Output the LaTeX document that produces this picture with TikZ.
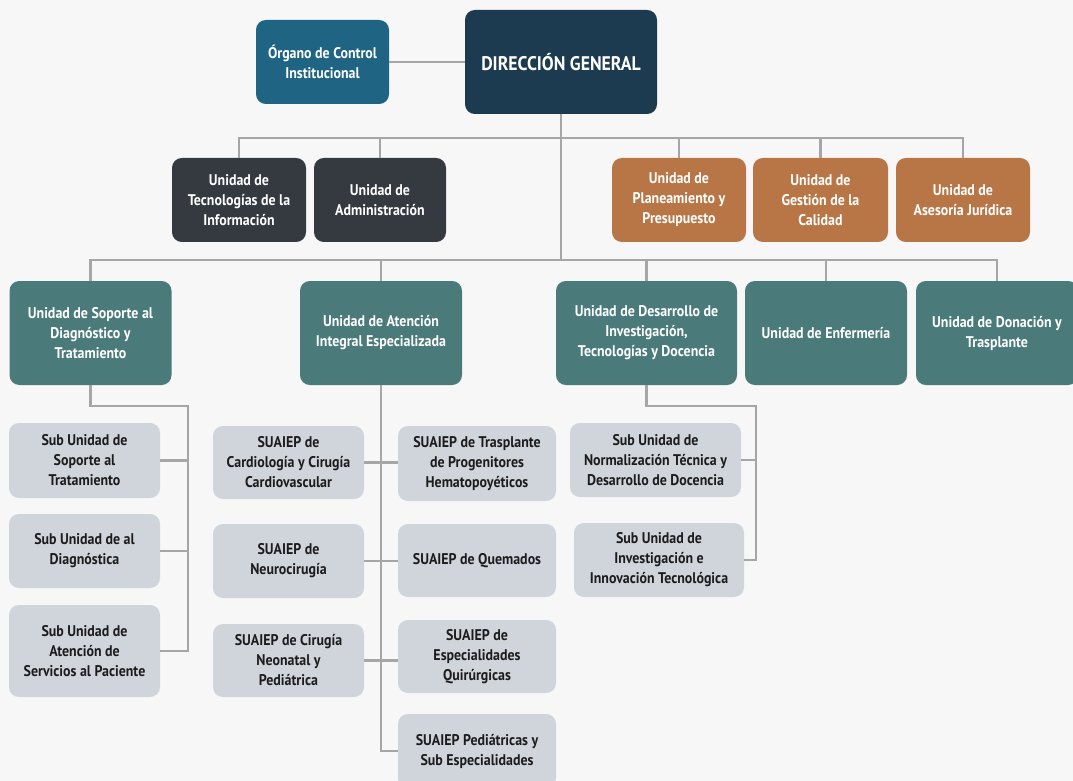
\documentclass[tikz,border=0pt]{standalone}
\usepackage{fontspec}
\setmainfont{PT Sans}[FakeStretch=0.9]
\usepackage{tikz}
\usetikzlibrary{calc}
\definecolor{paper}{RGB}{247, 247, 247}
\definecolor{navy}{RGB}{28, 58, 80}
\definecolor{petrol}{RGB}{31, 101, 131}
\definecolor{slate}{RGB}{52, 58, 64}
\definecolor{copper}{RGB}{184, 118, 70}
\definecolor{teal}{RGB}{74, 122, 122}
\definecolor{mist}{RGB}{208, 213, 219}
\definecolor{ink}{RGB}{28, 28, 28}
\definecolor{wiregray}{RGB}{166, 166, 166}

\begin{document}
\begin{tikzpicture}[x=0.025cm, y=-0.025cm,
        every node/.style={font=\bfseries\fontsize{11}{14.2}\selectfont, align=center, inner sep=0pt, rounded corners=7pt},
        sz/.style 2 args={minimum width=#1*0.025cm, minimum height=#2*0.025cm},
        head/.style={fill=navy, text=white},
        organ/.style={fill=petrol, text=white},
        staff/.style={fill=slate, text=white},
        advise/.style={fill=copper, text=white},
        unit/.style={fill=teal, text=white},
        subunit/.style={fill=mist, text=ink},
        wire/.style={draw=wiregray, line width=1.5pt}]
            \useasboundingbox (0,0) rectangle (1073,781);
            \fill[paper] (0,0) rectangle (1073,781);

            % direccion y organo de control
            \node[head, sz={192}{104}, font=\bfseries\fontsize{14}{17}\selectfont] (dir) at (561,62)   {DIRECCIÓN GENERAL};
            \node[organ, sz={133}{84}]  (oci) at (322.5,62) {Órgano de Control\\Institucional};

            % unidades de apoyo y asesoria
            \node[staff,  sz={134}{84}] (tic) at (239,200)   {Unidad de\\Tecnologías de la\\Información};
            \node[staff,  sz={132}{84}] (adm) at (380,200)   {Unidad de\\Administración};
            \node[advise, sz={134}{84}] (pla) at (679,200)   {Unidad de\\Planeamiento y\\Presupuesto};
            \node[advise, sz={135}{84}] (cal) at (820.5,200) {Unidad de\\Gestión de la\\Calidad};
            \node[advise, sz={134}{84}] (jur) at (963,200)   {Unidad de\\Asesoría Jurídica};

            % unidades de linea
            \node[unit, sz={162}{104}] (sop) at (90.5,333)  {Unidad de Soporte al\\Diagnóstico y\\Tratamiento};
            \node[unit, sz={162}{104}] (ate) at (381,333)   {Unidad de Atención\\Integral Especializada};
            \node[unit, sz={181}{104}] (des) at (646.5,333) {Unidad de Desarrollo de\\Investigación,\\Tecnologías y Docencia};
            \node[unit, sz={162}{104}] (enf) at (826,333)   {Unidad de Enfermería};
            \node[unit, sz={162}{104}] (don) at (997,333)   {Unidad de Donación y\\Trasplante};

            % sub unidades
            \node[subunit, sz={151}{75}] (sus) at (84.5,460.5) {Sub Unidad de\\Soporte al\\Tratamiento};
            \node[subunit, sz={151}{74}] (sud) at (84.5,551)   {Sub Unidad de al\\Diagnóstica};
            \node[subunit, sz={151}{92}] (sua) at (84.5,651)   {Sub Unidad de\\Atención de\\Servicios al Paciente};
            \node[subunit, sz={151}{73}] (car) at (288.5,462.5) {SUAIEP de\\Cardiología y Cirugía\\Cardiovascular};
            \node[subunit, sz={151}{74}] (neu) at (288.5,561)   {SUAIEP de\\Neurocirugía};
            \node[subunit, sz={151}{73}] (cir) at (288.5,660.5) {SUAIEP de Cirugía\\Neonatal y\\Pediátrica};
            \node[subunit, sz={158}{75}] (tra) at (477,463.5) {SUAIEP de Trasplante\\de Progenitores\\Hematopoyéticos};
            \node[subunit, sz={158}{73}] (que) at (477,560.5) {SUAIEP de Quemados};
            \node[subunit, sz={158}{73}] (esp) at (477,656.5) {SUAIEP de\\Especialidades\\Quirúrgicas};
            \node[subunit, sz={158}{74}] (ped) at (477,751)   {SUAIEP Pediátricas y\\Sub Especialidades};
            \node[subunit, sz={171}{74}] (nor) at (655.5,460) {Sub Unidad de\\Normalización Técnica y\\Desarrollo de Docencia};
            \node[subunit, sz={170}{74}] (inv) at (659,560)   {Sub Unidad de\\Investigación e\\Innovación Tecnológica};

            % conectores
            \coordinate (busA)   at (562,138);
            \coordinate (busB)   at (562,260);
            \coordinate (sopbus) at (188,406);
            \coordinate (desbus) at (756,406);

            \draw[wire] (oci.east) -- (dir.west);
            \draw[wire] (dir.south) -- (dir.south |- busB);
            \draw[wire] (tic.north) |- (busA -| jur.north) -- (jur.north);
            \foreach \n in {adm,pla,cal} \draw[wire] (\n.north) -- (\n.north |- busA);
            \draw[wire] (sop.north) |- (busB -| don.north) -- (don.north);
            \foreach \n in {ate,des,enf} \draw[wire] (\n.north) -- (\n.north |- busB);

            \draw[wire] (sop.south) |- (sopbus) -- (sopbus |- sua.east) -- (sua.east);
            \foreach \n in {sus,sud} \draw[wire] (\n.east) -- (\n.east -| sopbus);

            \draw[wire] (ate.south) -- (ate.south |- ped.west) -- (ped.west);
            \draw[wire] (car.east) -- (car.east -| tra.west);
            \draw[wire] (neu.east) -- (neu.east -| que.west);
            \draw[wire] (cir.east) -- (cir.east -| esp.west);

            \draw[wire] (des.south) |- (desbus) -- (desbus |- inv.east) -- (inv.east);
            \draw[wire] (nor.east) -- (nor.east -| desbus);
        \end{tikzpicture}
\end{document}
